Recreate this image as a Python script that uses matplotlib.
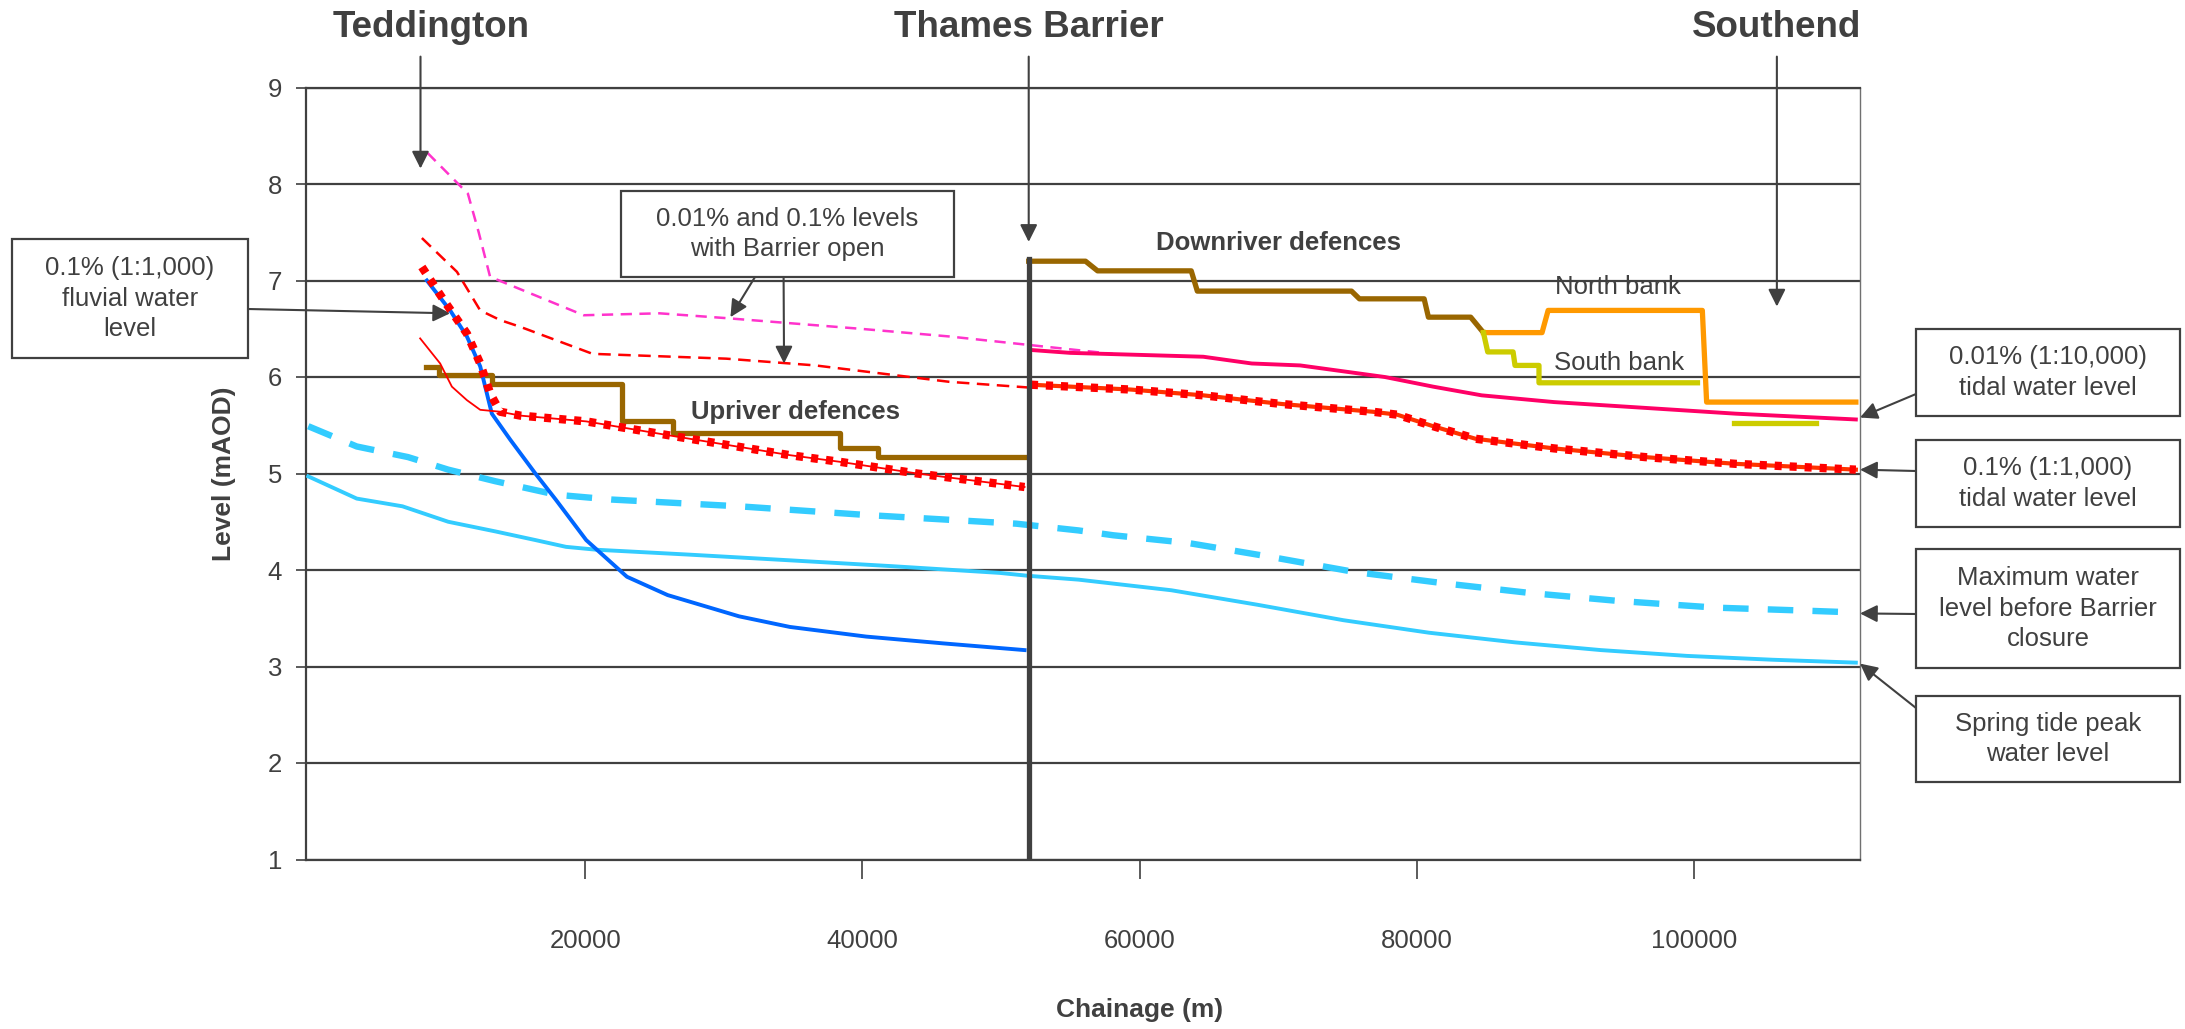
import matplotlib
matplotlib.use("Agg")
import matplotlib.pyplot as plt
from matplotlib.patches import Rectangle

plt.rcParams['font.family'] = ['Liberation Sans', 'DejaVu Sans']

INK = '#404040'
W, H = 2185, 1029

# chainage (m) and levels (mAOD) along the tidal Thames
spring_x = [0, 3500, 6800, 10100, 13500, 16400, 18600, 20800, 27400, 34800, 42100,
            49900, 51950, 55600, 62300, 68500, 74700, 80900, 87100, 93300, 99500,
            105700, 111700]
spring_y = [4.97, 4.74, 4.66, 4.50, 4.40, 4.31, 4.24, 4.21, 4.16, 4.10, 4.04,
            3.97, 3.94, 3.90, 3.79, 3.64, 3.48, 3.35, 3.25, 3.17, 3.11,
            3.07, 3.04]

maxlev_x = [0, 3500, 7200, 10100, 13500, 17900, 21900, 31100, 40300, 51100, 55600,
            58100, 63500, 69300, 75500, 82100, 88300, 94500, 101600, 107800, 111700]
maxlev_y = [5.49, 5.28, 5.17, 5.04, 4.92, 4.78, 4.73, 4.66, 4.57, 4.48, 4.41,
            4.36, 4.28, 4.14, 3.98, 3.86, 3.76, 3.68, 3.61, 3.58, 3.56]

fluvial_x = [8560, 10240, 11450, 12410, 12890, 13250, 14580, 16390, 17860, 20060,
             23000, 25940, 31090, 34760, 40270, 45790, 51700]
fluvial_y = [7.00, 6.69, 6.42, 6.11, 5.83, 5.62, 5.35, 5.00, 4.73, 4.31,
             3.93, 3.74, 3.52, 3.41, 3.31, 3.24, 3.17]

# 0.1% tidal level upstream of the Barrier (shared part + two different heads)
tidal01_up_x = [13850, 15300, 20060, 26680, 34760, 38430, 43950, 51700]
tidal01_up_y = [5.64, 5.60, 5.54, 5.38, 5.19, 5.12, 5.00, 4.86]
dotted_head_x = [8200, 9760, 11450, 12410, 13130]
dotted_head_y = [7.14, 6.80, 6.45, 6.14, 5.83]
thin_head_x = [8075, 9520, 10365, 11450, 12410]
thin_head_y = [6.40, 6.14, 5.90, 5.76, 5.66]

tidal01_dn_x = [52160, 59370, 64600, 70280, 76830, 78580, 81190, 84250, 89920,
                96480, 103030, 111700]
tidal01_dn_y = [5.92, 5.87, 5.81, 5.72, 5.64, 5.61, 5.49, 5.36, 5.26,
                5.17, 5.10, 5.04]

tidal001_x = [52160, 55000, 64600, 68100, 71590, 77700, 81190, 84690, 89920,
              96480, 103030, 111700]
tidal001_y = [6.28, 6.25, 6.21, 6.14, 6.12, 6.00, 5.90, 5.81, 5.74,
              5.68, 5.62, 5.56]

# levels with the Barrier left open
open001_x = [8620, 11520, 12300, 13120, 13770, 19880, 25350, 30170, 39820, 46270,
             52160, 58060]
open001_y = [8.32, 7.90, 7.50, 7.04, 7.00, 6.64, 6.66, 6.61, 6.50, 6.42,
             6.33, 6.24]
open01_x = [8200, 10730, 12410, 13850, 15300, 20520, 30170, 36600, 46270, 52100]
open01_y = [7.44, 7.09, 6.69, 6.59, 6.52, 6.24, 6.19, 6.12, 5.95, 5.89]

# defence crest levels
up_def_x = [8500, 9420, 13270, 22620, 26350, 38350, 41150, 51800]
up_def_y = [6.10, 6.02, 5.93, 5.54, 5.42, 5.26, 5.17, 5.17]
down_def_x = [52000, 56100, 56970, 63730, 64170, 75300, 75870, 80540, 80850,
              83900, 84820]
down_def_y = [7.20, 7.20, 7.10, 7.10, 6.89, 6.89, 6.81, 6.81, 6.62, 6.62, 6.46]
north_x = [84820, 89050, 89490, 100620, 100930, 111700]
north_y = [6.46, 6.46, 6.69, 6.69, 5.74, 5.74]
south_x = [84820, 85130, 86960, 87100, 88830, 88830, 100270]
south_y = [6.46, 6.26, 6.26, 6.12, 6.12, 5.94, 5.94]
south2_x = [102940, 108790]
south2_y = [5.52, 5.52]

barrier_x = 52000
barrier_top = 7.22

places = ['Teddington', 'Thames Barrier', 'Southend']
place_x = [8900, 52000, 106000]
place_arrow_x = [8100, 52000, 106000]
place_arrow_y = [8.16, 7.40, 6.73]

xticks = [20000, 40000, 60000, 80000, 100000]
yticks = [1, 2, 3, 4, 5, 6, 7, 8, 9]

fig = plt.figure(figsize=(W / 100, H / 100), dpi=100)
ax = fig.add_axes([305.5 / W, 1 - 859.5 / H, (1860 - 305.5) / W, (859.5 - 87.5) / H])
ax.set_xlim(-200, 112000)
ax.set_ylim(1, 9)

ax.set_yticks(yticks)
ax.set_xticks(xticks)
ax.yaxis.grid(True, color=INK, lw=1.6)
ax.set_axisbelow(True)
ax.tick_params(axis='y', direction='out', length=7, width=1.2, color=INK,
               labelsize=18.5, labelcolor=INK, pad=10)
ax.tick_params(axis='x', direction='out', length=14, width=1.2, color=INK,
               labelsize=18.5, labelcolor=INK, pad=36)
for side in ['left', 'bottom', 'top']:
    ax.spines[side].set_color(INK)
    ax.spines[side].set_linewidth(1.6)
ax.spines['right'].set_color('#707070')
ax.spines['right'].set_linewidth(1.0)

# water levels
ax.plot(spring_x, spring_y, color='#33CCFF', lw=2.8, zorder=3)
ax.plot(maxlev_x, maxlev_y, color='#33CCFF', lw=4.6, dashes=(4, 3), zorder=3)
ax.plot(fluvial_x, fluvial_y, color='#0066FF', lw=2.8, zorder=4)
ax.plot(open001_x, open001_y, color='#FF33CC', lw=1.8, dashes=(4.5, 3), zorder=3)
ax.plot(open01_x, open01_y, color='#FF0000', lw=1.8, dashes=(5, 3), zorder=3)

ax.plot(thin_head_x + tidal01_up_x, thin_head_y + tidal01_up_y,
        color='#FF0000', lw=1.3, zorder=4)
ax.plot(dotted_head_x + tidal01_up_x, dotted_head_y + tidal01_up_y,
        color='#FF0000', lw=6, dashes=(0.85, 0.95), zorder=4)
ax.plot(tidal01_dn_x, tidal01_dn_y, color='#FF3300', lw=3, zorder=4)
ax.plot(tidal01_dn_x, tidal01_dn_y, color='#FF0000', lw=6, dashes=(0.85, 0.95),
        zorder=4)
ax.plot(tidal001_x, tidal001_y, color='#FF0066', lw=2.8, zorder=4)

# defences
ax.plot(up_def_x, up_def_y, color='#996600', lw=3.8, drawstyle='steps-post', zorder=3)
ax.plot(down_def_x, down_def_y, color='#996600', lw=3.8, zorder=3)
ax.plot(north_x, north_y, color='#FF9900', lw=3.8, zorder=3)
ax.plot(south_x, south_y, color='#CCCC00', lw=3.8, zorder=3)
ax.plot(south2_x, south2_y, color='#CCCC00', lw=3.8, zorder=3)

ax.plot([barrier_x, barrier_x], [1, barrier_top], color=INK, lw=3.8, zorder=5)

ax.text(35150, 5.64, 'Upriver defences', fontsize=18.5, fontweight='bold',
        color=INK, ha='center', va='center', zorder=6)
ax.text(70040, 7.39, 'Downriver defences', fontsize=18.5, fontweight='bold',
        color=INK, ha='center', va='center', zorder=6)
ax.text(94510, 6.93, 'North bank', fontsize=18.5, color=INK, ha='center',
        va='center', zorder=6)
ax.text(94640, 6.14, 'South bank', fontsize=18.5, color=INK, ha='center',
        va='center', zorder=6)

arrow = dict(arrowstyle='-|>', color=INK, lw=1.5, mutation_scale=26,
             shrinkA=0, shrinkB=0)

for name, tx, axx, ay in zip(places, place_x, place_arrow_x, place_arrow_y):
    ax.text(tx, 9.52, name, fontsize=26.5, fontweight='bold', color=INK,
            ha='center', va='baseline', clip_on=False)
    ax.annotate('', xy=(axx, ay), xytext=(axx, 9.32), arrowprops=arrow,
                annotation_clip=False)

fig.text(1140 / W, 1 - 1010 / H, 'Chainage (m)', fontsize=19, fontweight='bold',
         color=INK, ha='center', va='center')
fig.text(224 / W, 1 - 474 / H, 'Level (mAOD)', fontsize=19, fontweight='bold',
         color=INK, ha='center', va='center', rotation=90)


def box(x0, y0, x1, y1, label):
    # x/y in pixels measured from the top-left corner of the figure
    fig.add_artist(Rectangle((x0 / W, 1 - y1 / H), (x1 - x0) / W, (y1 - y0) / H,
                             transform=fig.transFigure, fill=False,
                             edgecolor=INK, lw=1.6))
    fig.text((x0 + x1) / 2 / W, 1 - (y0 + y1) / 2 / H, label, fontsize=18.5,
             color=INK, ha='center', va='center', linespacing=1.32)


def pointer(px, py, x, y):
    ax.annotate('', xy=(x, y), xycoords='data', xytext=(px, H - py),
                textcoords='figure pixels', arrowprops=arrow,
                annotation_clip=False)


box(12, 239, 248, 358, '0.1% (1:1,000)\nfluvial water\nlevel')
pointer(248, 309, 10240, 6.66)

box(621, 191, 954, 277, '0.01% and 0.1% levels\nwith Barrier open')
pointer(755, 277, 30470, 6.62)
pointer(783.6, 277, 34340, 6.14)

box(1916, 329, 2180, 416, '0.01% (1:10,000)\ntidal water level')
pointer(1916, 394, 112000, 5.58)
box(1916, 440, 2180, 527, '0.1% (1:1,000)\ntidal water level')
pointer(1916, 471, 112000, 5.04)
box(1916, 549, 2180, 668, 'Maximum water\nlevel before Barrier\nclosure')
pointer(1916, 614, 112000, 3.55)
box(1916, 696, 2180, 782, 'Spring tide peak\nwater level')
pointer(1916, 708, 112000, 3.03)

fig.savefig('out.png', dpi=100)
